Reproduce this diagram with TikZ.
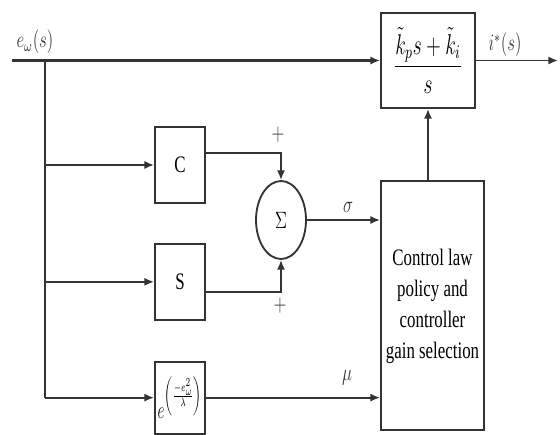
\documentclass[tikz,border=0pt]{standalone}
\usepackage{fontspec}
\setmainfont{Liberation Serif}
\usepackage{amsmath}
\usepackage{graphicx}
\usepackage{tikz}
\usetikzlibrary{arrows.meta, positioning, shapes.geometric}
\newcommand{\tallbox}[1]{\scalebox{1}[1.4]{#1}}

\begin{document}
\begin{tikzpicture}[
    font=\fontsize{12}{15.7}\selectfont,
    block/.style={rectangle, draw=black!80, line width=1.3pt, minimum width=1.25cm, minimum height=1.9cm, align=center, inner sep=0pt},
    sumnode/.style={ellipse, draw=black!80, line width=1.3pt, minimum width=1.25cm, minimum height=1.95cm, inner sep=0pt},
    arrow/.style={-{Latex[length=2.4mm, width=2mm]}, line width=1.3pt, black!80},
    label/.style={font=\fontsize{12}{14}\selectfont, inner sep=1pt, text=black!80}
]
\useasboundingbox (0,0) rectangle (14,-10.85);

% Blocks
\node[block, minimum width=2.35cm, minimum height=2.375cm] (pi) at (10.7,-1.5125) {\scalebox{1.15}[1.7]{$\dfrac{\tilde{k}_p s+\tilde{k}_i}{s}$}};
\node[block] (cbox) at (4.5,-4.125) {\tallbox{C}};
\node[block, below=0.975cm of cbox] (sbox) {\tallbox{S}};
\node[block, minimum height=1.8cm, below=1cm of sbox] (ebox) {\raisebox{-5pt}{\scalebox{0.9}[1.45]{$e^{\left(\frac{-e_\omega^2}{\lambda}\right)}$}}};
\node[sumnode] (sum) at (7.025,-5.5) {\tallbox{$\Sigma$}};
\node[block, minimum width=2.575cm, minimum height=6.225cm] (ctrl) at (10.8125,-7.6375) {\tallbox{\begin{tabular}{@{}c@{}}Control law\\policy and\\controller\\gain selection\end{tabular}}};

% Coordinates
\coordinate (in) at (0.3,-1.5125);
\coordinate (split) at (1.125,-1.5125);
\coordinate (out) at (13.95,-1.5125);

% Arrows - main path
\draw[arrow, line width=1.6pt] (in) -- (pi.west);
\draw[arrow] (pi.east) -- (out);
\draw[line width=1.3pt, black!80] (split) -- (split |- ebox.west);
\draw[arrow] (split |- cbox.west) -- (cbox.west);
\draw[arrow] (split |- sbox.west) -- (sbox.west);
\draw[arrow] (split |- ebox.west) -- (ebox.west);

% Arrows - into sum and controller
\draw[arrow] ([yshift=0.3cm]cbox.east) -| (sum.north);
\draw[arrow] ([yshift=-0.25cm]sbox.east) -| (sum.south);
\draw[arrow] (sum.east) -- (sum.east -| ctrl.west);
\draw[arrow] (ebox.east) -- (ebox.east -| ctrl.west);
\draw[arrow] (pi.south |- ctrl.north) -- (pi.south);

% Labels
\node[label] (elabel) at (0.875,-1.05) {\tallbox{$e_\omega(s)$}};
\node[label] (ilabel) at (12.625,-1.125) {\tallbox{$i^{*}(s)$}};
\node[label] (plustop) at (6.95,-3.375) {\tallbox{$+$}};
\node[label] (plusbot) at (7.0,-7.65) {\tallbox{$+$}};
\node[label] (siglabel) at (8.7,-5.175) {\tallbox{$\sigma$}};
\node[label] (mulabel) at (8.675,-9.45) {\tallbox{$\mu$}};

\end{tikzpicture}
\end{document}
